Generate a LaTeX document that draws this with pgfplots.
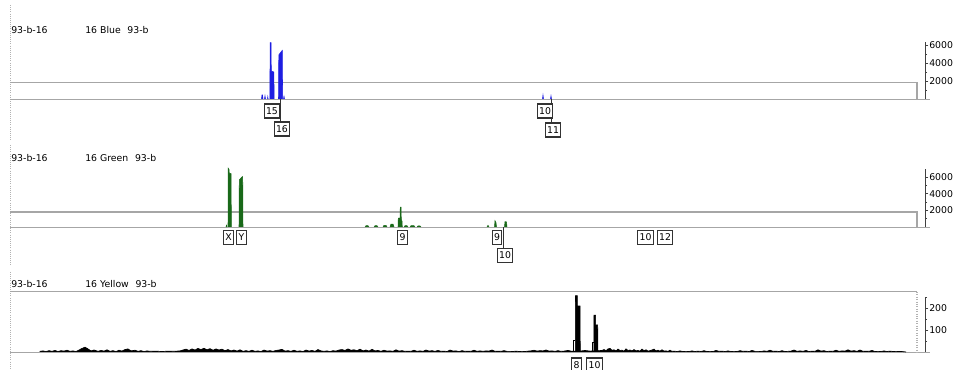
\documentclass[border=0pt]{standalone}
\usepackage{pgfplots}
\pgfplotsset{compat=1.18}
\usepackage{fontspec}
\setmainfont{DejaVu Sans}
\definecolor{eblue}{RGB}{30,30,225}
\definecolor{egreen}{RGB}{25,105,25}
\newcommand{\tf}{\fontsize{7}{8}\selectfont}
\pgfplotsset{
 panel/.style={
  scale only axis, width=686.25pt, xmin=10, xmax=925, ymin=0,
  axis x line=none, axis y line*=right,
  axis line style={black!75, line width=0.6pt},
  tick align=outside, major tick length=2.5pt, minor tick length=1.5pt,
  tick style={black!75, line width=0.5pt},
  yticklabel style={font=\tf, /pgf/number format/1000 sep={}, /pgf/number format/assume math mode=true, inner sep=0.5pt},
  clip=false,
 },
 bpk/.style={draw=eblue, fill=eblue, line width=0.4pt},
 gpk/.style={draw=egreen, fill=egreen, line width=0.4pt},
}
\tikzset{lbl/.style={draw=black!80, fill=white, font=\tf, inner sep=1.4pt, minimum height=10.5pt, line width=0.8pt}}
\begin{document}
\begin{tikzpicture}
\useasboundingbox (0,0) rectangle (715.5pt,277.5pt);
% ---------------- Blue panel
\begin{axis}[panel, at={(7.5pt,203.25pt)}, anchor=south west, height=42.75pt, ymax=6333,
  ytick={2000,4000,6000}, minor ytick={1000,3000,5000}]
\draw[black!30, densely dotted, line width=0.6pt] (axis cs:10,10444) -- (axis cs:10,-4555);
\draw[gray!70, line width=0.6pt] (axis cs:10,0) -- (axis cs:930,0);
\draw[gray!70, line width=0.8pt] (axis cs:10,1850) -- (axis cs:917,1850) -- (axis cs:917,0);
\node[anchor=west, font=\tf, inner sep=0pt] at (axis cs:11,7667) {93-b-16};
\node[anchor=west, font=\tf, inner sep=0pt] at (axis cs:85,7667) {16 Blue\hspace{5pt}93-b};
\addplot[bpk] coordinates {(261.5,0)(262,450)(262.5,450)(263,0)};
\addplot[bpk] coordinates {(264.5,0)(265,350)(265.5,0)};
\addplot[bpk] coordinates {(267.5,0)(267.8,250)(268.1,0)};
\addplot[bpk] coordinates {(269.8,0)(270.2,6250)(271.0,6250)(271.3,3100)(273.8,3000)(274.2,0)};
\addplot[bpk] coordinates {(278.5,0)(278.8,4900)(281.5,5300)(282.3,5400)(282.6,0)};
\addplot[bpk] coordinates {(283.5,0)(284,300)(284.5,0)};
\addplot[bpk] coordinates {(542.5,0)(543,450)(543.5,0)};
\addplot[bpk] coordinates {(550.5,0)(551,350)(551.5,0)};
\draw[black!80, line width=0.7pt] (axis cs:280,0) -- (axis cs:280,-2555);
\draw[black!80, line width=0.7pt] (axis cs:551,0) -- (axis cs:551,-2555);
\node[lbl] at (axis cs:272,-1333) {15};
\node[lbl] at (axis cs:282,-3333) {16};
\node[lbl] at (axis cs:545,-1333) {10};
\node[lbl] at (axis cs:553,-3444) {11};
\end{axis}
% ---------------- Green panel
\begin{axis}[panel, at={(7.5pt,107.25pt)}, anchor=south west, height=43.5pt, ymax=6960,
  ytick={2000,4000,6000}, minor ytick={1000,3000,5000}]
\draw[black!30, densely dotted, line width=0.6pt] (axis cs:10,9840) -- (axis cs:10,-4560);
\draw[gray!70, line width=0.6pt] (axis cs:10,0) -- (axis cs:930,0);
\draw[gray!70, line width=0.8pt] (axis cs:10,1800) -- (axis cs:917,1800) -- (axis cs:917,0);
\node[anchor=west, font=\tf, inner sep=0pt] at (axis cs:11,8280) {93-b-16};
\node[anchor=west, font=\tf, inner sep=0pt] at (axis cs:85,8280) {16 Green\hspace{5pt}93-b};
\addplot[gpk] coordinates {(226,0)(226.5,200)(227,0)};
\addplot[gpk] coordinates {(228,0)(228.2,7050)(229,6900)(229.3,6450)(231,6400)(231.4,0)};
\addplot[gpk] coordinates {(239,0)(239.3,5650)(242.3,6050)(242.7,6000)(243,0)};
\addplot[gpk] coordinates {(365,0)(366,150)(368,150)(369,0)};
\addplot[gpk] coordinates {(374,0)(375,150)(377,150)(378,0)};
\addplot[gpk] coordinates {(383,0)(384,200)(386,200)(387,0)};
\addplot[gpk] coordinates {(390,0)(391,350)(393,350)(394,0)};
\addplot[gpk] coordinates {(398,0)(398.3,1050)(400,1050)(400.3,2380)(401,2380)(401.3,900)(402,700)(402.3,0)};
\addplot[gpk] coordinates {(404,0)(405,150)(407,150)(408,0)};
\addplot[gpk] coordinates {(410,0)(411,150)(414,150)(415,0)};
\addplot[gpk] coordinates {(417,0)(418,120)(420,120)(421,0)};
\addplot[gpk] coordinates {(487,0)(488,200)(489,0)};
\addplot[gpk] coordinates {(494.5,0)(495,760)(496,500)(496.5,0)};
\addplot[gpk] coordinates {(504.5,0)(505,640)(506.5,600)(507,0)};
\draw[black!80, line width=0.7pt] (axis cs:503.5,0) -- (axis cs:503.5,-2520);
\node[lbl] at (axis cs:228.5,-1260) {X};
\node[lbl] at (axis cs:241.5,-1260) {Y};
\node[lbl] at (axis cs:402.5,-1260) {9};
\node[lbl] at (axis cs:497,-1260) {9};
\node[lbl] at (axis cs:505,-3420) {10};
\node[lbl] at (axis cs:645.5,-1260) {10};
\node[lbl] at (axis cs:665,-1260) {12};
\end{axis}
% ---------------- Yellow panel
\begin{axis}[panel, at={(7.5pt,13.5pt)}, anchor=south west, height=41.25pt, ymax=250,
  ytick={100,200}, minor ytick={50,150,250}]
\draw[black!30, densely dotted, line width=0.6pt] (axis cs:10,364) -- (axis cs:10,-91);
\draw[gray!70, line width=0.6pt] (axis cs:10,0) -- (axis cs:930,0);
\draw[gray!70, line width=0.8pt] (axis cs:10,273) -- (axis cs:917,273);
\draw[gray!60, densely dotted, line width=0.8pt] (axis cs:917,273) -- (axis cs:917,0);
\node[anchor=west, font=\tf, inner sep=0pt] at (axis cs:11,309) {93-b-16};
\node[anchor=west, font=\tf, inner sep=0pt] at (axis cs:85,309) {16 Yellow\hspace{5pt}93-b};
\addplot[draw=black, fill=black, line width=0.5pt] coordinates {
 (40,0)(40,3)(43,5)(46,2)(49,6)(52,3)(55,7)(58,2)(61,6)(64,4)(67,8)(70,3)(73,5)(76,2)(79,9)(82,16)(85,22)(88,14)(91,5)(94,9)(98,3)
 (101,7)(104,4)(107,10)(110,3)(113,6)(116,2)(119,8)(122,4)(125,11)(128,14)(131,5)(135,8)(138,3)(141,6)(144,2)(147,5)(150,3)(156,4)(162,2)(168,4)(174,3)
 (180,5)(183,9)(186,13)(189,7)(192,14)(195,9)(198,16)(201,11)(204,17)(207,10)(210,15)(213,8)(216,14)(219,9)(222,13)
 (225,6)(228,11)(231,5)(234,9)(237,4)(240,10)(243,3)(246,6)(249,3)(252,8)(255,3)(258,5)(261,2)(264,9)(267,4)(270,6)(273,3)(276,7)(279,9)(282,12)(285,4)(288,6)
 (291,3)(294,8)(297,3)(300,5)(303,2)(306,9)(309,4)(312,7)(315,3)(318,11)(321,5)(324,3)(327,5)(330,2)(333,6)(336,4)(339,9)(342,11)(345,7)(348,14)(351,8)(354,10)(357,6)(360,13)
 (363,5)(366,9)(369,4)(372,12)(375,5)(378,7)(381,3)(384,8)(387,4)(390,5)(393,3)(396,10)(399,4)(402,6)(405,3)(408,4)(411,3)(414,8)(417,3)(420,5)(423,3)(426,9)(429,4)(432,6)
 (435,3)(438,7)(441,3)(444,4)(447,2)(450,9)(453,4)(456,5)(459,2)(462,6)(465,3)(468,4)(471,3)(474,8)(477,3)(480,5)(483,3)(486,5)(489,4)(492,9)(495,3)(498,4)(501,3)(504,6)
 (507,3)(510,3)(513,2)(516,4)(519,2)(522,3)(525,2)(528,4)(531,5)(534,8)(537,4)(540,6)(543,5)(546,9)(549,4)(552,5)(555,3)(558,6)(561,3)(564,4)(568,7)(571,4)
 (580,4)(585,7)(590,4)(599,6)
 (602,7)(604,11)(606,6)(608,14)(610,16)(612,8)(614,10)(616,5)(618,13)(620,7)(622,8)(624,4)(626,14)(628,7)(630,9)(632,5)(634,11)(636,5)(638,7)(640,4)(642,13)(644,6)(646,10)
 (648,4)(650,6)(652,9)(654,13)(656,5)(658,8)(660,4)(662,10)(664,4)(666,5)(668,3)(670,8)(672,3)(674,4)(677,2)(680,5)(683,2)(686,3)(689,2)(692,5)(695,2)(698,4)(701,2)(704,6)
 (707,2)(710,3)(713,2)(716,7)(719,3)(722,4)(725,2)(728,5)(731,2)(734,3)(737,2)(740,6)(743,3)(746,4)(749,2)(752,7)(755,3)(758,3)(761,2)(764,5)(767,3)(770,8)(773,3)(776,4)
 (779,2)(782,6)(785,2)(788,3)(791,4)(794,9)(797,3)(800,5)(803,3)(806,7)(809,2)(812,4)(815,3)(818,10)(821,4)(824,6)(827,2)(830,4)(833,3)(836,8)(839,3)(842,5)(845,4)(848,10)
 (851,4)(854,6)(857,3)(860,9)(863,3)(866,4)(869,3)(872,7)(875,2)(878,3)(881,2)(884,5)(887,2)(890,4)(893,2)(896,3)(899,2)(902,2)(906,0)
};
\addplot[draw=black, fill=black, line width=0.4pt] coordinates {(575.3,0)(575.5,256)(577.3,256)(577.3,209)(580,209)(580.3,0)};
\addplot[draw=black, fill=black, line width=0.4pt] coordinates {(593.8,0)(594,168)(595.7,168)(595.7,123)(597.7,123)(598,0)};
\addplot[draw=black, line width=0.5pt] coordinates {(573,0)(573,55)(575.4,55)};
\addplot[draw=black, line width=0.5pt] coordinates {(592.2,0)(592.2,42)(593.8,42)};
\node[lbl] at (axis cs:576.5,-59) {8};
\node[lbl] at (axis cs:594.5,-59) {10};
\end{axis}
\end{tikzpicture}
\end{document}
